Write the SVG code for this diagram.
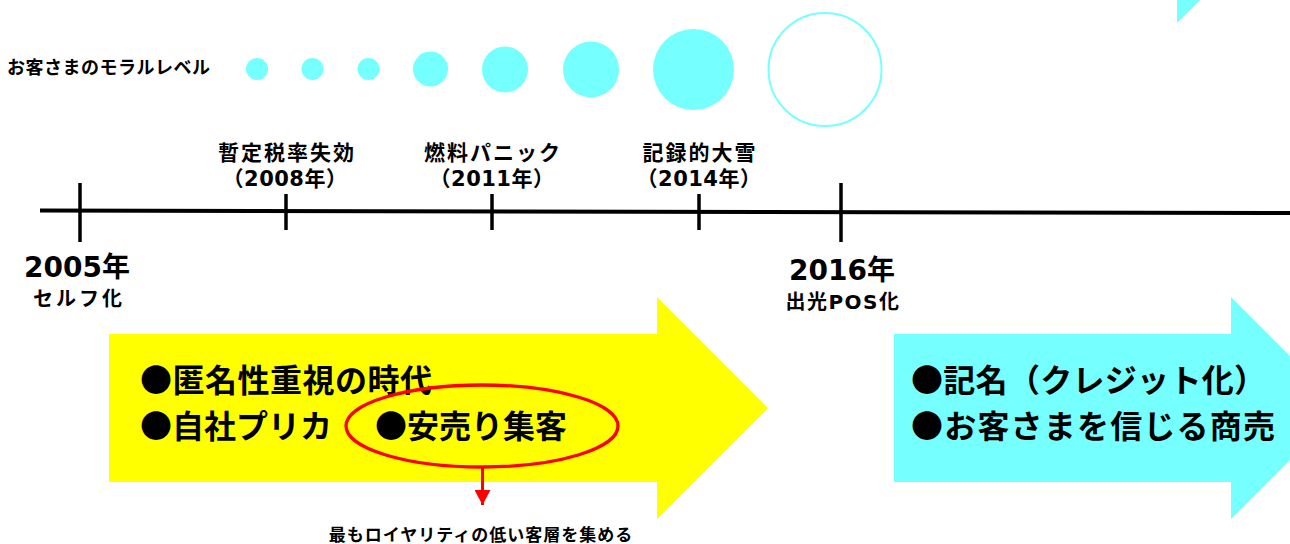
<svg xmlns="http://www.w3.org/2000/svg" width="1290" height="544" viewBox="0 0 1290 544">
<style>
.t{font-family:"DejaVu Sans","Noto Sans CJK JP",sans-serif;font-weight:bold;fill:#000}
.j{font-family:"Noto Sans CJK JP",sans-serif;font-weight:bold;fill:#000}
.dot{fill:#76ffff}
.tick{stroke:#000;stroke-width:3.5;fill:none}
</style>
<defs>
<marker id="ah" viewBox="0 0 15 16" refX="15" refY="8" markerWidth="15" markerHeight="16" markerUnits="userSpaceOnUse" orient="auto">
<path d="M0,0 L15,8 L0,16 Z" fill="#ff0000"/>
</marker>
</defs>
<rect width="1290" height="544" fill="#fff"/>
<g id="moral">
<text class="j" x="7" y="74" font-size="18" letter-spacing="0.5">お客さまのモラルレベル</text>
<circle class="dot" cx="257" cy="69" r="11"/>
<circle class="dot" cx="312.5" cy="69" r="11"/>
<circle class="dot" cx="368.5" cy="69" r="11"/>
<circle class="dot" cx="430.5" cy="69" r="17.5"/>
<circle class="dot" cx="505" cy="69.5" r="23"/>
<circle class="dot" cx="591" cy="69.5" r="28"/>
<circle class="dot" cx="693.5" cy="69.5" r="40.5"/>
<circle cx="825" cy="69.5" r="56.5" fill="none" stroke="#76ffff" stroke-width="2"/>
</g>
<polygon id="corner" points="1177,0 1200,0 1177,23" fill="#76ffff"/>
<g id="timeline">
<line x1="40" y1="210.5" x2="1290" y2="213" stroke="#000" stroke-width="4"/>
<line class="tick" x1="80" y1="183" x2="80" y2="242"/>
<line class="tick" x1="286" y1="194" x2="286" y2="230"/>
<line class="tick" x1="492" y1="194" x2="492" y2="230"/>
<line class="tick" x1="699" y1="194" x2="699" y2="230"/>
<line class="tick" x1="841" y1="183" x2="841" y2="242"/>
</g>
<g id="ev2005">
<text class="t" x="77" y="277" font-size="28" text-anchor="middle">2005年</text>
<text class="j" x="79" y="306" font-size="20" letter-spacing="3" text-anchor="middle">セルフ化</text>
</g>
<g id="ev2008">
<text class="j" x="287" y="160" font-size="21" letter-spacing="2" text-anchor="middle">暫定税率失効</text>
<text class="t" x="285" y="186" font-size="21" letter-spacing="0.5" text-anchor="middle">（2008年）</text>
</g>
<g id="ev2011">
<text class="j" x="493" y="160" font-size="21" letter-spacing="2" text-anchor="middle">燃料パニック</text>
<text class="t" x="492" y="186" font-size="21" letter-spacing="0.5" text-anchor="middle">（2011年）</text>
</g>
<g id="ev2014">
<text class="j" x="700" y="160" font-size="21" letter-spacing="2" text-anchor="middle">記録的大雪</text>
<text class="t" x="699" y="186" font-size="21" letter-spacing="0.5" text-anchor="middle">（2014年）</text>
</g>
<g id="ev2016">
<text class="t" x="842" y="280" font-size="28" text-anchor="middle">2016年</text>
<text class="t" x="843" y="309" font-size="20" letter-spacing="1.5" text-anchor="middle">出光POS化</text>
</g>
<g id="era1">
<polygon points="109,334 657,334 657,297 768,408 657,519 657,482 109,482" fill="#ffff00"/>
<text class="j" x="140" y="392" font-size="32" letter-spacing="0.5">●匿名性重視の時代</text>
<text class="j" x="140" y="438" font-size="32">●自社プリカ</text>
<text class="j" x="375" y="438" font-size="32">●安売り集客</text>
</g>
<g id="era2">
<polygon points="894,334 1231,334 1231,297 1342,408 1231,519 1231,482 894,482" fill="#76ffff"/>
<text class="j" x="911" y="392" font-size="32" letter-spacing="0.3">●記名（クレジット化）</text>
<text class="j" x="911" y="438" font-size="32" letter-spacing="1.2">●お客さまを信じる商売</text>
</g>
<g id="highlight">
<ellipse cx="482" cy="426" rx="136" ry="41" fill="none" stroke="#ff0000" stroke-width="3.3"/>
</g>
<g id="connectors">
<line x1="482.5" y1="467" x2="482.5" y2="505" stroke="#ff0000" stroke-width="3" marker-end="url(#ah)"/>
</g>
<g id="note">
<text class="j" x="481" y="541" font-size="17" letter-spacing="1" text-anchor="middle">最もロイヤリティの低い客層を集める</text>
</g>
</svg>
